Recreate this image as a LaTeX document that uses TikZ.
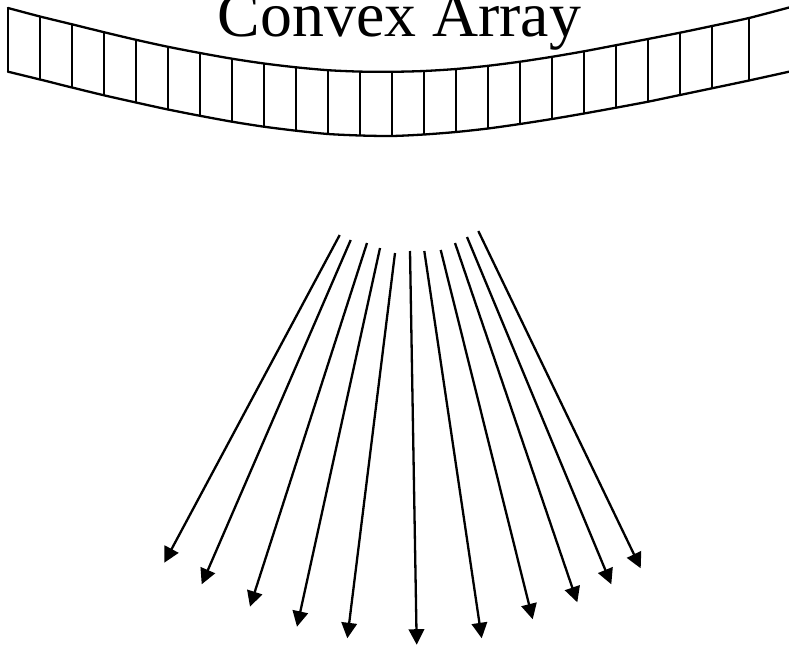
\documentclass[tikz,border=0pt]{standalone}
\usepackage{fontspec}
\setmainfont{Liberation Serif}
\usetikzlibrary{arrows.meta}
\tikzset{
  outline/.style={line width=2.3pt,line join=round,line cap=round},
  divider/.style={line width=2pt},
  beam/.style={line width=2.3pt,-{Triangle[length=15.5pt,width=15.5pt]}},
  title/.style={font=\fontsize{63.8pt}{70pt}\selectfont,inner sep=0pt,anchor=base}
}
\begin{document}
\begin{tikzpicture}[x=1pt,y=-1pt]
\useasboundingbox (0,0) rectangle (789,645);
\clip (0,0) rectangle (789,645);
\node[title] (label) at (399.5,36.8) {Convex Array};
% element array
\draw[outline] plot[smooth,tension=0.45] coordinates {(8,8) (40,16.5) (72,24.3) (104,32.2) (136,39.8) (168,46.8) (200,53) (232,58.7) (264,63.5) (296,67.3) (328,70.2) (360,71.6) (392,71.8) (424,71) (456,69) (488,65.8) (520,61.7) (552,56.8) (584,51.3) (616,45.2) (648,39) (680,32.7) (712,26) (749,18) (789,7.5)};
\draw[outline] plot[smooth,tension=0.45] coordinates {(8,71.7) (40,79.5) (72,87.5) (104,95.3) (136,102.5) (168,109.5) (200,115.8) (232,121.7) (264,126.7) (296,130.7) (328,134) (360,135.5) (392,136) (424,134.5) (456,132) (488,128.5) (520,124) (552,119) (584,113.5) (616,107.7) (648,101.7) (680,95) (712,88.3) (749,80.5) (789,71.7)};
\draw[outline] (8,8) -- (8,71.7);
\foreach \px/\ya/\yb in {40/16.5/79.5,72/24.3/87.5,104/32.2/95.3,136/39.8/102.5,168/46.8/109.5,200/53/115.8,232/58.7/121.7,264/63.5/126.7,296/67.3/130.7,328/70.2/134,360/71.6/135.5,392/71.8/136,424/71/134.5,456/69/132,488/65.8/128.5,520/61.7/124,552/56.8/119,584/51.3/113.5,616/45.2/107.7,648/39/101.7,680/32.7/95,712/26/88.3,749/18/80.5}
  \draw[divider] (\px,\ya) -- (\px,\yb);
% beams
\foreach \n/\ax/\ay/\bx/\by in {
  1/339.7/235/164.3/562.7,
  2/350.7/240/201.7/584.3,
  3/367/243/250/606.7,
  4/380/248/297/626.7,
  5/395/253/347.3/638.3,
  6/410/251/416.7/644.7,
  7/424.3/251/481.7/638.3,
  8/440.7/250/532.7/619.3,
  9/455/243/577.3/602.3,
  10/467/237/611.3/584.3,
  11/478.3/231/640.7/568.3}{
  \coordinate (s\n) at (\ax,\ay);
  \coordinate (e\n) at (\bx,\by);
  \draw[beam] (s\n) -- (e\n);
}
\end{tikzpicture}
\end{document}
